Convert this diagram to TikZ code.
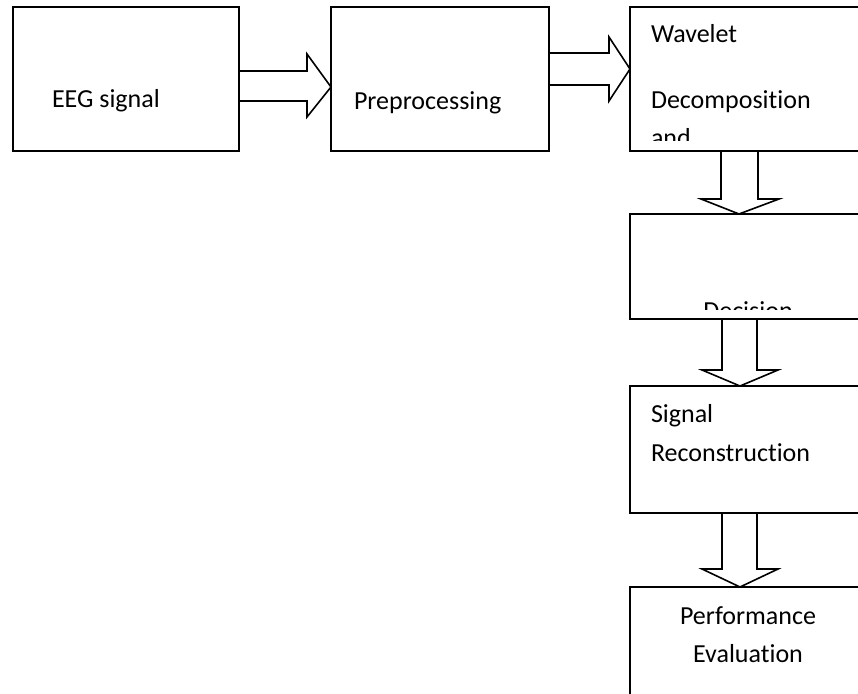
\documentclass[tikz,border=0pt]{standalone}
\usepackage{fontspec}
\setmainfont{Carlito}[Ligatures=NoCommon]
\usetikzlibrary{calc}

\tikzset{
  frame/.style={draw=black, line width=1.6pt, inner sep=0pt, outer sep=0pt, anchor=north west},
  blockarrow/.style={draw=black, line width=1.6pt, line join=miter},
  boxtext/.style={inner sep=0pt, outer sep=0pt, anchor=base west, text=black,
    font=\fontsize{26pt}{39pt}\selectfont},
  boxtextc/.style={boxtext, anchor=base},
}

\begin{document}
\begin{tikzpicture}[x=1pt, y=-1pt]
  % page area; boxes on the right run past its edge
  \clip (0,0) rectangle (858,693);
  \fill[white] (0,0) rectangle (858,693);

  % process boxes
  \node[frame, minimum width=226pt, minimum height=144pt] (eeg)  at (13,7)   {};
  \node[frame, minimum width=218pt, minimum height=144pt] (pre)  at (331,7)  {};
  \node[frame, minimum width=236pt, minimum height=144pt] (wav)  at (630,7)  {};
  \node[frame, minimum width=236pt, minimum height=105pt] (dec)  at (630,214) {};
  \node[frame, minimum width=236pt, minimum height=127pt] (rec)  at (630,386) {};
  \node[frame, minimum width=236pt, minimum height=140pt] (perf) at (630,587) {};

  % box labels
  \node[boxtext] (eegtxt) at (52,107)  {EEG signal};
  \node[boxtext] (pretxt) at (354,109) {Preprocessing};

  \begin{scope}
    \clip (630,7) rectangle (866,140);
    \node[boxtext] (wavtxt1) at (651,43)  {Wavelet};
    \node[boxtext] (wavtxt2) at (651,108) {Decomposition};
    \node[boxtext] (wavtxt3) at (651,146) {and};
  \end{scope}

  \begin{scope}
    \clip (630,214) rectangle (866,309);
    \node[boxtextc] (dectxt) at (748,319) {Decision};
  \end{scope}

  \node[boxtext] (rectxt1) at (651,422) {Signal};
  \node[boxtext] (rectxt2) at (651,461) {Reconstruction};

  \node[boxtextc] (perftxt1) at (748,624) {Performance};
  \node[boxtextc] (perftxt2) at (748,662) {Evaluation};

  % hollow block arrows between the stages
  \draw[blockarrow] (0,71 -| eeg.east) -- (307,71) -- (307,54) -- (0,87 -| pre.west)
        -- (307,117) -- (307,101) -- (0,101 -| eeg.east);
  \draw[blockarrow] (0,53 -| pre.east) -- (609,53) -- (609,37) -- (0,69 -| wav.west)
        -- (609,101) -- (609,85) -- (0,85 -| pre.east);
  \draw[blockarrow] (721,0 |- wav.south) -- (721,199) -- (701,199) -- (739,0 |- dec.north)
        -- (779,199) -- (758,199) -- (758,0 |- wav.south);
  \draw[blockarrow] (722,0 |- dec.south) -- (722,370) -- (702,370) -- (740,0 |- rec.north)
        -- (778,370) -- (757,370) -- (757,0 |- dec.south);
  \draw[blockarrow] (722,0 |- rec.south) -- (722,569) -- (702,569) -- (740,0 |- perf.north)
        -- (778,569) -- (757,569) -- (757,0 |- rec.south);
\end{tikzpicture}
\end{document}
